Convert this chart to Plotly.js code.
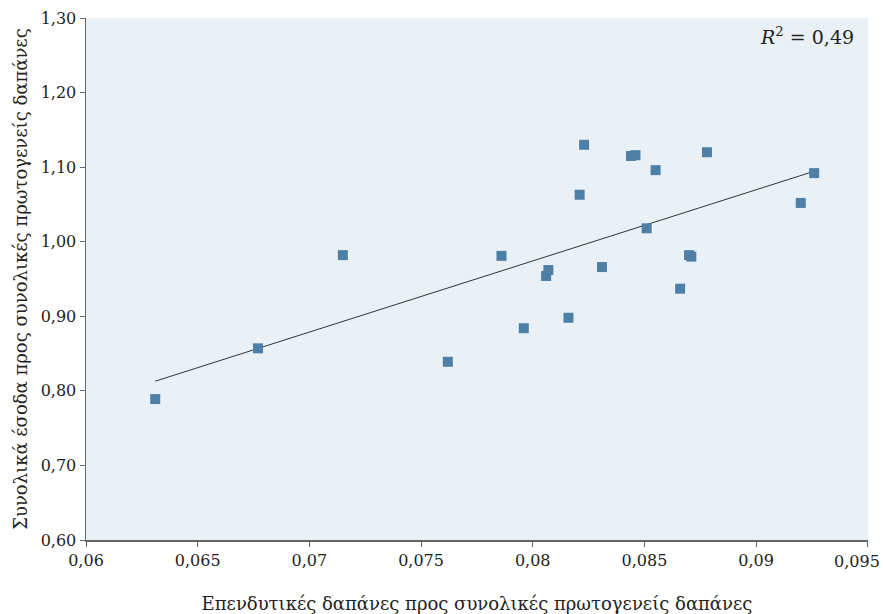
<!DOCTYPE html>
<html><head><meta charset="utf-8">
<script src="https://cdn.plot.ly/plotly-3.0.1.min.js"></script>
<style>body{margin:0;padding:0;background:#fff}#chart{width:883px;height:614px}</style>
</head><body><div id="chart"></div>
<script>
const xValues = [0.0631, 0.0677, 0.0715, 0.0762, 0.0786, 0.0796, 0.0806, 0.0807, 0.0816, 0.0821, 0.0823, 0.0831, 0.0844, 0.0846, 0.0851, 0.0855, 0.0866, 0.0870, 0.0871, 0.0878, 0.0920, 0.0926];
const yValues = [0.789, 0.857, 0.982, 0.839, 0.981, 0.884, 0.954, 0.962, 0.898, 1.063, 1.130, 0.966, 1.115, 1.116, 1.018, 1.096, 0.937, 0.982, 0.980, 1.120, 1.052, 1.092];
const xTickVals = [0.06, 0.065, 0.07, 0.075, 0.08, 0.085, 0.09, 0.095];
const xTickText = ['0,06', '0,065', '0,07', '0,075', '0,08', '0,085', '0,09', '0,095'];
const r2Label = '<i>R</i><sup>2</sup> = 0,49';
const xTitle = 'Επενδυτικές δαπάνες προς συνολικές πρωτογενείς δαπάνες';
const yTitle = 'Συνολικά έσοδα προς συνολικές πρωτογενείς δαπάνες';

// least-squares trend line
const n = xValues.length;
const mx = xValues.reduce((a,b)=>a+b,0)/n, my = yValues.reduce((a,b)=>a+b,0)/n;
let sxy=0, sxx=0;
for (let i=0;i<n;i++){ sxy+=(xValues[i]-mx)*(yValues[i]-my); sxx+=(xValues[i]-mx)**2; }
const slope = sxy/sxx, icpt = my - slope*mx;
const xmin = Math.min(...xValues), xmax = Math.max(...xValues);

const font = 'DejaVu Serif, Liberation Serif, serif';
const lastIdx = xTickText.length - 1;
const shownText = xTickText.map((t,i)=> i===lastIdx ? '' : t);

const data = [
  {x:[xmin,xmax], y:[icpt+slope*xmin, icpt+slope*xmax], mode:'lines', type:'scatter',
   line:{color:'#333333', width:1}, hoverinfo:'skip', showlegend:false},
  {x:xValues, y:yValues, mode:'markers', type:'scatter',
   marker:{symbol:'square', size:10, color:'#4e80a7'}, showlegend:false}
];
const layout = {
  width:883, height:614,
  margin:{l:86, r:15, t:18, b:74},
  paper_bgcolor:'#ffffff', plot_bgcolor:'#e9f1f7',
  separators:', ',
  font:{family:font, size:16, color:'#222'},
  xaxis:{range:[0.06,0.09501], tickmode:'array', tickvals:xTickVals, ticktext:shownText,
    showgrid:false, zeroline:false,
    showline:true, linecolor:'#666', linewidth:1.5, ticks:'outside', ticklen:5, tickcolor:'#666',
    tickfont:{family:font, size:16, color:'#222'},
    title:{text:xTitle, font:{family:font, size:18, color:'#222'}, standoff:28}},
  yaxis:{range:[0.6,1.30001], dtick:0.1, tick0:0.6, tickformat:'.2f', showgrid:false, zeroline:false,
    showline:true, linecolor:'#666', linewidth:1.5, ticks:'outside', ticklen:5, tickcolor:'#666',
    tickfont:{family:font, size:16, color:'#222'},
    title:{text:yTitle, font:{family:font, size:18, color:'#222'}, standoff:8}},
  annotations:[
    {xref:'paper', yref:'paper', x:0.985, y:0.965, xanchor:'right', yanchor:'middle',
     text:r2Label, showarrow:false, font:{family:font, size:19, color:'#222'}},
    {xref:'x', yref:'paper', x:xTickVals[lastIdx], y:0, xanchor:'right', yanchor:'top',
     xshift:14, yshift:-10, text:xTickText[lastIdx], showarrow:false,
     font:{family:font, size:16, color:'#222'}}
  ]
};
Plotly.newPlot('chart', data, layout, {displayModeBar:false, staticPlot:true});
</script>
</body></html>
